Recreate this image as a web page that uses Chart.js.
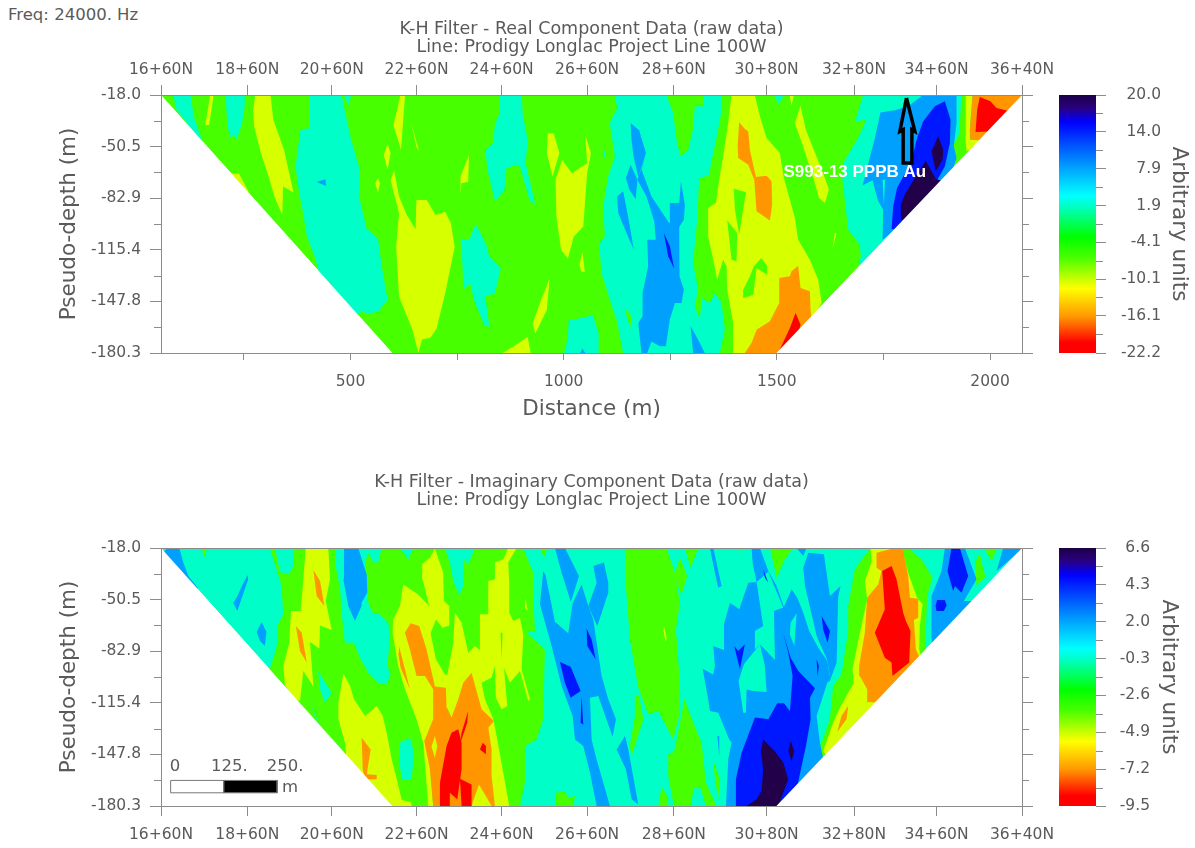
<!DOCTYPE html>
<html><head><meta charset="utf-8">
<script src="https://cdn.jsdelivr.net/npm/chart.js@4"></script>
<style>
html,body{margin:0;padding:0;background:#fff}
canvas{position:absolute}
#freq{position:absolute;left:8px;top:6px;font:16.5px "DejaVu Sans";color:#5a5a5a;line-height:18px}
</style></head><body>
<div id="freq">Freq: 24000. Hz</div>
<canvas id="c1" width="1058" height="424" style="left:0;top:0"></canvas>
<canvas id="b1" width="155" height="424" style="left:1040px;top:0"></canvas>
<canvas id="c2" width="1058" height="398" style="left:0;top:450px"></canvas>
<canvas id="b2" width="155" height="398" style="left:1040px;top:450px"></canvas>
<script>
/* ---------- axes ---------- */
const distanceMin = 55.6, distanceMax = 2075;
const depthTop = -18, depthBottom = -180.3;
const depthTicks = [-18.0,-50.5,-82.9,-115.4,-147.8,-180.3];
const depthMinor = [-34.2,-66.7,-99.1,-131.6,-164.0];
const distanceTicks = [250,500,750,1000,1250,1500,1750,2000];
const distanceLabelled = [500,1000,1500,2000];
const stationValues = [55.6,258,456,655,854.5,1055,1258.5,1476,1681,1874.6,2075];
const stationLabels = ['16+60N','18+60N','20+60N','22+60N','24+60N','26+60N','28+60N','30+80N','32+80N','34+60N','36+40N'];
const realBarTicks = [20.0,14.0,7.9,1.9,-4.1,-10.1,-16.1,-22.2];
const realBarMinor = [17,10.95,4.9,-1.1,-7.1,-13.1,-19.15];
const imagBarTicks = [6.6,4.3,2.0,-0.3,-2.6,-4.9,-7.2,-9.5];
const imagBarMinor = [5.45,3.15,0.85,-1.45,-3.75,-6.05,-8.35];
const rampStops = [0,0.05,0.105,0.28,0.39,0.43,0.55,0.63,0.75,0.86,0.96,1];
const rampColors = ['#1c0048','#2a0080','#0000ff','#00a0ff','#00ffff','#00ffc8','#00ff00','#48ff00','#ffff00','#ff9600','#ff0000','#ff0000'];
const levelDark='#22004a', levelBlue='#0018ff', levelAzure='#00a0ff', levelAqua='#00ffc8',
      levelGreen='#48ff00', levelLime='#d6ff00', levelOrange='#ff9600', levelRed='#ff0000', blank='#ffffff';

/* ---------- region outlines, all as [distance m, pseudo-depth m, ...] ---------- */
const outsideLeft  = [55.6,-18, 598,-180.3, 55.6,-180.3];
const outsideRight = [2075,-18, 2075,-180.3, 1499,-180.3];

/* Real component */
const realBase = [[55.6,-18,2075,-18,1499,-180.3,598,-180.3]];
const realAqua = [
 [85,-18,125,-18,132.5,-31.5,155,-48.7,90,-26.7],
 [207,-18,252,-18,252,-25.2,245,-36.8,233,-45.8,225,-43,218,-44.5,211,-36.8],
 [405,-18,479,-18,488,-29.4,501.5,-46.2,522,-65.1,522,-84,537.5,-101.9,564.5,-108.2,573.5,-126,587,-147,564.5,-154.4,542,-155.4,526,-154.4,515,-156.5,429.5,-132.3,416,-119.7,398,-107.1,389,-92.4,380,-79.8,371,-63,383,-39.5,405,-38.9],
 [485,-18,501.5,-18,495,-24.8],
 [850,-18,902,-18,903.8,-29.4,915.5,-46.2,911,-60.9,933.5,-87.2,920,-84,897.5,-63,888.5,-62,866,-64,861.5,-77.7,839,-85,821,-65.1,816.5,-52.5,834.5,-48.3,839,-35.7,850.7,-29.4],
 [758,-108.2,778,-109.2,794,-99.1,819,-112.4,825.5,-119.7,852.5,-127,839,-142.8,816.5,-144.5,825.5,-163.8,814,-162.8,789.5,-147,780.5,-136.5,765,-140.3,762.5,-123.9],
 [1012,-158.6,1019,-159.6,1068.5,-156.5,1082,-168,1082,-180.3,1001,-180.3,1010,-170.1],
 [1120,-18,1125.5,-26.2,1108,-35.6,1120,-56.6,1104.4,-69.2,1092.7,-88,1096.6,-106.9,1083.3,-111.5,1088.8,-130,1108.3,-146.8,1124,-159.3,1139.6,-180.3,1366.4,-180.3,1378,-165.6,1370.3,-148.9,1354.6,-142.6,1343,-148.9,1323.4,-145.7,1319.4,-159.3,1307.7,-151,1315.5,-140.5,1303.8,-123.7,1313.2,-96.4,1317.9,-70.2,1340.6,-68.7,1346.8,-59.7,1360,-43,1370.3,-28.3,1370.3,-18],
 [1093.4,-52,1098,-54.5,1095,-58.3],
 [1495.4,-18,1516.5,-18,1503,-24.1],
 [1702.5,-18,1683,-34.6,1708.8,-33.5,1694.7,-43,1655.6,-60.8,1654,-71.3,1661,-88,1667.3,-102.7,1694.7,-112.2,1697,-119.5,1690.8,-124.7,1765,-119.5,1859,-77.6,1976,-18]
];
const realGreenOver = [
 [1241,-18,1327,-18,1329,-25.1,1307.7,-25.1,1303.8,-38.8,1292,-52.4,1274,-56.6,1264.7,-46.1,1257,-29.3],
 [1147.4,-153,1159,-157.2,1156.8,-164.6,1145.8,-155.2]
];
const realLime = [
 [171,-18,179,-18,168.5,-36.8,159.5,-36.8],
 [276.5,-18,312.5,-18,319,-33.6,344,-52.5,366.5,-79.4,342,-75.6,340,-93.5,321.5,-81.9,308,-69.3,290,-54.6,274,-37.8,272,-27.3],
 [216,-67.6,238,-67.2,263,-79.8,254,-81.9],
 [617,-18,628,-18,618.5,-52.5,600.5,-36.8,609.5,-27.3],
 [643,-36,661,-53.5,654.5,-50.4],
 [587,-48.7,594,-54.6,587,-65.1,578,-55.7],
 [564.5,-70.4,569,-73.5,564.5,-79.4,558,-73.5],
 [602.3,-65.5,614,-81.9,632,-93.5,652.7,-102.5,654.5,-84,678.8,-84,699.5,-93.5,722,-91.4,735.5,-98.7,744.5,-113.4,722,-142.8,702,-164.9,688,-170.5,668,-171.8,659,-180.2,645.5,-165.9,614,-144.9,607,-113.4,614,-92.4,594,-71.4],
 [778,-55.7,776,-72.5,760,-73.5,758,-80.9,758,-69.3],
 [967,-133.4,960.5,-153.3,933.5,-168,927,-161.7,947,-147],
 [915.5,-170.1,922.7,-180.3,857,-180.3,893,-174.3],
 [963,-42,976.7,-42,990,-54.6,974,-69.3,960.5,-54.6],
 [996.5,-58.8,1019,-67.2,1055,-60.9,1050.5,-43,1064,-54.6,1055,-67.2,1046,-100.8,1023.5,-107.1,1010,-120.8,994,-115.5,983,-94.5,981,-71.4],
 [1044,-116.6,1049.6,-129.2,1041.5,-129.2,1037,-125],
 [1393.7,-18,1448.5,-18,1460.2,-31.4,1475.8,-45,1507,-54.5,1516.5,-70.2,1542.3,-95.4,1550,-109,1577.5,-121.6,1597,-134.2,1605,-148.9,1538,-180.3,1397.6,-180.3,1397.6,-161.4,1383.6,-140.5,1382,-125.8,1374,-121.6,1360,-134.2,1349,-119.5,1339,-107,1339,-89,1357,-86,1366.4,-68.8,1374,-56.6,1386,-35.6],
 [1555.5,-24.7,1568,-39.8,1585,-51.4,1608.7,-67,1622,-77.6,1612.6,-86,1599,-82.8,1589,-73.4,1561.7,-50.3,1542,-35.6],
 [1530,-18,1540,-18,1534.4,-24.7],
 [1636,-104.8,1640,-104.8,1630.6,-115.3]
];
const realGreenIslands = [
 [1399,-77,1427.4,-79.2,1411.7,-105.9,1401.6,-90.1],
 [1383.6,-96.9,1407,-104.8,1405.5,-122.6,1393.7,-121.6],
 [1464,-120.5,1477.4,-125.8,1477.4,-131,1452.4,-126.8,1444.6,-143.6,1422.7,-145.7,1421,-140.5,1436.7,-132.1,1446,-125.8]
];
const realOrange = [
 [1411.7,-35.2,1425,-39.4,1433,-40.9,1436.7,-52.4,1451,-69.6,1475.8,-68.8,1487.6,-72.3,1489,-87,1483.7,-96.9,1452.4,-91.2,1447,-71.3,1433,-61.8,1409.4,-57.6,1408,-50.3],
 [1505.6,-133.1,1530.6,-132,1534.5,-128.9,1550,-125.4,1555.6,-139.4,1577.5,-141.5,1579,-153,1585,-165.6,1538.4,-180.3,1425,-180.3,1440.7,-174,1452.4,-165.6,1483.7,-160.4,1505.6,-148.9]
];
const realRed = [
 [1544,-155.1,1555.6,-162.5,1538.4,-180.3,1503,-180.3,1530.6,-164.6]
];
const realAzure = [
 [420.5,-72.7,441,-71,443,-75.2],
 [1044,-177.5,1050.5,-180.3,1039,-180.3],
 [1157,-35.6,1177,-40.2,1193,-54.5,1175,-69.6,1164,-56.6,1159,-46.1],
 [1157,-61.8,1173,-71.3,1169,-83.4,1154,-77.6,1146,-70.2],
 [1125.5,-81.8,1139.6,-78.6,1151,-94.3,1164.6,-115.3,1147.4,-104.8,1128,-92.2],
 [1193,-55.5,1182.6,-64.9,1206,-81.8,1247.5,-98.5,1249,-86,1271,-86,1275,-72.3,1284.3,-87,1282,-96.4,1271,-101,1271,-121.6,1272.5,-132,1282,-140.5,1276.4,-148.9,1261,-148.9,1249,-159.3,1239.7,-176.1,1225.6,-176.1,1206,-173,1196,-180.3,1182.6,-180.3,1175,-161.4,1185,-157.2,1185,-142.6,1198.2,-125.8,1196,-109,1216,-109,1212.6,-97.5,1194.3,-81.8,1173,-71.3],
 [1297.5,-163.1,1319.4,-174,1331,-180.3,1303.8,-180.3],
 [1843,-18,1921.5,-18,1921.5,-35.6,1915,-50.3,1921.5,-57.6,1898,-77.6,1748,-109,1749.4,-90.1,1737.7,-84.9,1724.4,-71.7,1701,-75,1730,-45,1743,-29,1776.8,-27.6,1808,-25.1]
];
const realAquaOver = [[1748,-71.3,1754,-71.3,1751,-87]];
const realBlue = [
 [1235,-104.8,1249,-113.2,1259,-127,1245,-119.5],
 [1817,-176.5,1823,-180.3,1815,-180.3],
 [1894,-22,1907.4,-33.5,1905.8,-48.2,1894,-62.9,1874.5,-72.3,1890,-72.3,1788.5,-102.7,1769,-102.3,1773,-88,1782,-76.5,1816,-59.7,1827.6,-46.1,1843,-34.6,1870.6,-25.1]
];
const realDark = [
 [1878.5,-44,1890,-52.4,1888.6,-58.7,1873,-66,1863,-53.4],
 [1849,-59.3,1873,-70.9,1890,-72.3,1808,-97.5,1790,-96,1791,-87,1800,-80.7,1823.7,-70.2,1839.4,-63.9]
];
const realCornerGreen = [[1933,-18,1943,-18,1941.8,-44,1949,-51.4,1976,-52.4,1929,-58.7,1923,-57.6,1927,-46.1]];
const realCornerLime  = [[1943,-18,1959,-18,1952.7,-39.8,1952.7,-46.1,1970,-46.1,2007.5,-46.1,1945,-53.4,1941.8,-44]];
const realCornerOrange= [[1959,-18,2101,-18,1992,-48.2,1974,-46.5,1954,-46.1,1952.7,-39.8]];
const realCornerRed   = [[1976,-19.3,2001,-22,2015,-26.2,2046.6,-28.3,1999.7,-40.9,1966,-41.3,1970,-27.2]];
const pickArrow = [1804,-19.9,1788.5,-40.9,1796.3,-39.8,1796.3,-60.8,1816.7,-60.8,1816.7,-39.8,1823.7,-40.9];

/* Imaginary component */
const imagBase = [[55.6,-18,2075,-18,1499,-180.3,598,-180.3]];
const imagGreen = [
 [311,-18,326.7,-31.4,338.4,-41.9,342.3,-59.7,328.3,-67,330.6,-75.5,323,-83.8,311,-93.9,287.6,-95.4,592.6,-180.3,897.4,-180.3,909.2,-165.6,909.2,-142.6,936.5,-138.4,952,-125.8,956,-81.8,913,-71.3,932.6,-70.2,928.7,-48.2,928.7,-33.5,905,-18],
 [151,-18,164,-18,157,-24],
 [979.6,-172,1003,-171.3,1010.8,-175,1026.5,-174,1022.6,-180.3,979.6,-180.3],
 [944.4,-18,961.6,-18,953.7,-24.1],
 [1143.7,-18,1241.4,-18,1261,-33.5,1272.7,-52.4,1263.3,-69.2,1272.7,-102.7,1272.7,-121.6,1257,-138.4,1221.9,-120.5,1198.4,-122.6,1175,-105.9,1155.4,-75.5,1143.7,-33.5],
 [1272.7,-24,1289.9,-35.6,1276.6,-47.2,1258.6,-35.6],
 [1284.4,-18,1315.7,-18,1297.7,-30.4],
 [1167,-110,1177.3,-111.1,1186.7,-125.8,1159.3,-148.9,1155.4,-142.6,1167,-123.7],
 [1280.5,-111.1,1304,-127.9,1323.5,-140.5,1333.7,-165.6,1358.7,-180.3,1333.7,-180.3,1321.2,-169.2,1305.5,-169.2,1297.7,-180.3,1258.6,-180.3,1245.3,-161.4,1245.3,-147.8,1258.6,-146.4,1264.9,-138.4,1279,-119.5],
 [1229.7,-168.2,1245.3,-175,1245.3,-180.3,1221.9,-180.3],
 [1351,-152,1366.5,-163.5,1362.6,-176.1,1354.8,-163.5],
 [1483.8,-18,1538.6,-18,1519,-25.1,1499.5,-36.7,1491.6,-27.2],
 [1409.5,-18,1417.4,-18,1413.4,-21],
 [1719.7,-18,1808,-18,1839.4,-25.1,1865,-36.7,1852.6,-48.2,1848.7,-75.5,1851,-86,1741.6,-119.5,1585,-161.4,1573.5,-157.2,1604.8,-140.5,1624.3,-125.8,1632,-104.8,1651.7,-97.5,1659.5,-83.9,1667.3,-70.2,1667.3,-54.5,1683,-31.4,1702.5,-24],
 [1976,-21,1985.6,-33.5,1991.8,-35.6,1968.4,-41.9,1964.5,-27.2],
 [1985.6,-18,2017,-18,2003.6,-26.2]
];
const imagAquaOver = [
 [323,-18,366,-18,367.4,-29.3,354,-34.6,334.5,-33.1],
 [466,-18,463.6,-27.2,475.3,-43,479,-58.7,487,-77.6,508,-77.6,522,-87,541.8,-96.4,565.2,-102.7,584.8,-103.8,594,-97.5,586.3,-92.2,592.6,-75.5,588.7,-65,565.2,-58.7,553.5,-59.7,541.8,-52.4,538,-35.6,534,-27.2,541.8,-21,553.5,-27.2,565.2,-27.2,573,-18],
 [616,-18,647,-18,635.8,-25.1],
 [721.5,-18,791.9,-18,776.2,-28.3,764.5,-25.1,764.5,-41.9,755,-47.8,741,-38.8,733,-27.2],
 [424.5,-95.4,455.7,-109,440,-115.3,428.4,-106.9],
 [397,-108,409,-117,427,-129,418,-125],
 [616,-140.5,639.7,-137.3,649,-146.8,643.6,-163.5,620,-163.5,616,-155.2]
];
const imagAzure = [
 [70.2,-18,98.6,-18,108,-27.2,119.7,-35.6,143,-43.4,123.4,-43.4,55.3,-23],
 [258.7,-35,260.2,-37.7,234.6,-57.6,225,-52.4,233,-49.3,247,-40.9],
 [291.5,-64.6,303,-70.8,299.3,-79.7,287.6,-76.5,280,-70.8],
 [484.7,-18,518.3,-18,538,-34.6,539.4,-46.1,526,-52.4,526,-54.5,510.5,-64,495,-54.5,483,-37.7],
 [952.2,-32.5,957.7,-35.2,979.6,-64.4,1010.8,-71.7,1021,-52.8,1042,-40.9,1057.8,-54.5,1069.5,-62.9,1089,-98.5,1104.7,-113.2,1122.7,-125.8,1114.8,-136.7,1081.2,-111.1,1061.7,-112.2,1065.6,-138.4,1077.3,-151,1108.6,-180.3,1077.3,-180.3,1061.7,-159.3,1046,-142.6,1026.5,-138.4,1021,-123.7,995.2,-104.8,971.7,-79.7,944.4,-53.4],
 [979.6,-18,1003,-18,1035.9,-35.6,1017,-52,995.2,-33.5],
 [1069.5,-29.3,1094.5,-27.2,1104.7,-39.8,1104.7,-46.1,1078.9,-67,1057.8,-54.5,1077.3,-39.8],
 [1143.8,-136.3,1151.6,-144.7,1175,-179.3,1159.4,-176.1,1146,-157.2,1124.2,-144.7],
 [1440.8,-18,1460.4,-18,1480,-32.5,1499.5,-41.9,1516.7,-54.9,1534.7,-44,1548,-49.3,1562,-58.7,1576,-70.2,1597.2,-80.7,1618.3,-89.1,1626,-101,1618.3,-102.7,1593.3,-123.7,1601,-140.5,1609,-151,1601,-161.4,1523,-180.3,1380.6,-180.3,1386,-151,1393.9,-140.5,1388.4,-138.4,1362.6,-121.6,1343,-120.5,1339,-113.2,1325.9,-93.9,1350.9,-97.5,1354.8,-92.2,1350.9,-79.7,1376,-82.2,1376,-66,1390,-52.4,1411.9,-56.6,1433,-39.8,1452.5,-39.4,1443,-27.2],
 [1562,-30.4,1573.8,-21,1610.5,-22,1624.6,-48.2,1649.6,-41.9,1644,-48.2,1640.2,-90.1,1626,-100.6,1618.3,-88.5,1593.3,-73.4,1581.6,-59.7,1566,-41.9],
 [1546.4,-18,1569.8,-18,1562,-23],
 [1343,-18,1351,-18,1370.4,-41.9,1362.6,-43,1354.8,-33.5],
 [1360.3,-136.3,1365,-136.3,1365,-148.9],
 [1894,-18,1941,-18,1968.4,-37.7,1938.7,-51.3,1976,-51.3,1866.7,-83.9,1862.8,-74.4,1862.8,-48.2,1886.3,-32.5],
 [2031,-18,2078,-18,2015.3,-32.5]
];
const imagAquaPockets = [
 [1460.4,-78.6,1472,-92.2,1476,-108.6,1444.7,-108,1429,-107,1427.5,-121.6,1421.3,-121.6,1410.3,-101.7,1422.8,-91.2],
 [1452.5,-39.4,1480,-33,1495.6,-43,1515,-55.5,1493.2,-57.6,1495.6,-88.5,1460.4,-78.6,1448.6,-81.8,1448.6,-70.2,1468,-67],
 [1532.3,-65,1546.4,-59.1,1541,-79.7,1530.7,-72.3]
];
const imagLime = [
 [395,-18,448,-18,452,-37.7,442,-51.3,456,-69.6,428.6,-66.7,427,-81.3,405,-77.1,413,-105.2,389.5,-95.4,381.6,-114.3,366,-112.2,346.5,-104.4,342.5,-92.2,356.6,-77.6,360.5,-57.6,383.2,-57.6,389.5,-37.7],
 [483.3,-96.9,499,-104.8,508.3,-113.2,534.1,-123.7,561.5,-117.4,575.6,-123.7,586.5,-136.3,596.7,-151,606.8,-161.4,620.2,-176.5,641.3,-177.8,643.6,-180.3,585,-180.3,491,-152,487.2,-140.5,471.6,-125.8,471.6,-115.3],
 [623.7,-40.9,659,-47.2,684.7,-54.5,669,-37.7,668.3,-28.3,686.3,-24.1,698,-18.4,717.6,-33.5,719,-51.3,731.7,-54.5,731.7,-66.7,716,-68.1,700.4,-62.9,688,-71.7,700.4,-88,721.5,-97.5,745,-98.5,725.4,-119.5,702,-127.9,682.4,-140.5,694,-180.3,682.4,-180.3,670.7,-140.5,655,-125.8,627.7,-106.9,612,-92.2,598.7,-71.3,600.3,-62.9,616,-54.5],
 [745,-58.7,760.6,-65,776.2,-83.9,791.9,-79.7,802,-81.8,803.6,-59.7,823.2,-59.7,823.2,-38.8,838.8,-37.7,838.8,-27.2,858.3,-25.1,870,-18,889.6,-18,870,-27.2,872.4,-39.8,872.4,-58.7,881.8,-64,897.4,-61.8,905.3,-72.3,901.4,-94.3,921,-113.2,917,-114.3,897.4,-95.4,874,-102.7,860,-93.3,867.7,-117.4,854.4,-119.5,841,-112.2,838.8,-92.2,831,-99.6,807.5,-102.7,815.3,-113.2,835,-125.8,844.3,-138.4,858.3,-159.3,872.4,-180.3,784,-180.3,780,-119.5,737,-124.7,721.5,-115.3,723.8,-102.7,741,-77.6],
 [910.7,-49.3,915.4,-57.6,909.2,-55.5],
 [1235.1,-67,1241.4,-74.4,1239,-77.1,1233.6,-69.2],
 [1719.7,-18,1792.4,-18,1808,-33.5,1829,-49.3,1841.7,-53.4,1835.4,-67,1833.9,-81.8,1839.4,-87,1741.6,-119.5,1616.5,-148.9,1608.7,-145.7,1632,-127.9,1643.9,-120.5,1667.3,-109,1680.6,-102.7,1677.5,-94.3,1694.7,-71.3,1711.9,-50.3,1706.4,-38.8,1722,-27.2]
];
const imagGreenThin = [[852,-71.3,856.8,-71.3,854.4,-88]];
const imagOrange = [
 [413,-31.8,428.6,-38.8,438.7,-54.5,420.7,-48.2],
 [372,-67,385.6,-71.3,397.3,-90.1,381.6,-82.8],
 [526.3,-137.3,547.4,-144.7,538,-160.4,561.5,-160.8,561.5,-163.5,534,-163.5,528.7,-157.2],
 [627.7,-71.3,641,-65.4,661.3,-67,678.5,-81.8,698,-105.2,723.8,-105.9,725.4,-118.5,737,-124.7,752.8,-113.2,764.5,-102.7,784,-96.4,807.5,-119.5,836.4,-126.8,823.2,-131,831,-144.7,831,-161.4,838.8,-180.3,694,-180.3,686.3,-157.2,673,-139.4,694,-125.8,694,-106.9,674.6,-98.5,655,-98.5,639.4,-81.8],
 [613.6,-79.7,619.8,-86,639.4,-106.9,617.5,-93.3,612,-83.9],
 [1733.8,-21,1776.8,-18,1794.8,-18,1808,-35.6,1812,-49.3,1831.5,-49.9,1831.5,-61.8,1821.4,-63.3,1826,-81.8,1835.4,-87,1749.4,-115.3,1711.9,-114.9,1711.9,-106.9,1694.7,-98.5,1693,-92.2,1706.4,-71.3,1711.9,-49.3,1737.7,-40.9,1745.5,-32.5,1733.8,-30.4],
 [1667.3,-117.4,1663.4,-125.8,1641.5,-133.8,1651.7,-123.7]
];
const imagLimeOver = [
 [698,-136.3,703.5,-142.6,698,-149.9,690,-143],
 [784,-180.3,801.3,-166.7,831,-180.3]
];
const imagRed = [
 [737,-134.2,752.8,-132,760.6,-140.5,760.6,-157.2,750.4,-176.1,733,-172,733,-180.3,709.8,-180.3,709.8,-165.6,725.4,-142.6],
 [776,-120.5,773.9,-127.9,756.7,-141.5,760.6,-134.2],
 [756.7,-163.1,784,-166.7,784,-180.3,760.6,-180.3],
 [810,-140.5,817.7,-142.6,817.7,-147.8,803.6,-144.7],
 [1747,-32.5,1769,-29.3,1780.7,-37.7,1796.3,-58.7,1802.6,-64,1813.5,-70.2,1810.4,-90.1,1771.3,-98.5,1769,-90.1,1753.3,-87,1729.9,-71.3,1753.3,-56.6]
];
const imagBlue = [
 [1053.8,-68.8,1065.6,-75.5,1075,-88,1055.4,-79.7],
 [991.3,-89.7,1016.3,-92.7,1039.8,-108,1016.3,-112.2,1003,-102.7],
 [1042,-111.1,1046,-129,1039.8,-128],
 [1515,-71.7,1532.3,-87,1550.3,-95.4,1589.4,-106.3,1577.7,-112.2,1579.2,-125.8,1568.3,-142.6,1548,-167.7,1554,-180.3,1404,-180.3,1404,-163.5,1417.4,-146.8,1448.6,-124.7,1480,-125.8,1501,-115.7,1516.7,-115.7,1530.7,-120.6,1537,-98.5,1526.8,-83.9],
 [1400,-79.7,1409.5,-82.8,1425,-78.6,1413.4,-94.3],
 [1468,-31.4,1480,-39.8,1472,-36.7],
 [1605,-60.8,1624.6,-70.2,1619,-77.6,1609,-69.6],
 [1593.3,-88,1598.8,-92.2,1595.6,-98.5],
 [1909.7,-18,1929.3,-18,1948.8,-35.6,1933.2,-46.1,1917.6,-41.9,1913.6,-45,1900.3,-32.5],
 [1876,-50.7,1894,-50.7,1898,-54,1891.7,-57.6,1874.5,-57.6,1872.2,-54.5]
];
const imagDark = [
 [1468,-138.4,1491.6,-144.7,1515,-153,1526.8,-163.5,1503.4,-180.3,1429,-180.3,1452.5,-176.1,1464.3,-170.9,1468,-157.2,1462.7,-145.7],
 [1532.3,-139.4,1541,-145.7,1534.7,-152,1526.8,-145.7]
];
/* map scale bar, in metres along the line */
const scaleBarStart = 78.2, scaleBarSteps = [0,125,250];
const scaleBarDepth = [-164.2,-172.0];

/* ---------- paint order ---------- */
const realLayers = [
 [levelGreen,realBase],[levelAqua,realAqua],[levelGreen,realGreenOver],[levelLime,realLime],
 [levelGreen,realGreenIslands],[levelOrange,realOrange],[levelRed,realRed],[levelAzure,realAzure],
 [levelAqua,realAquaOver],[levelBlue,realBlue],[levelDark,realDark],
 [levelGreen,realCornerGreen],[levelLime,realCornerLime],[levelOrange,realCornerOrange],[levelRed,realCornerRed],
 [blank,[outsideLeft,outsideRight]]
];
const imagLayers = [
 [levelAqua,imagBase],[levelGreen,imagGreen],[levelAqua,imagAquaOver],[levelAzure,imagAzure],
 [levelAqua,imagAquaPockets],[levelLime,imagLime],[levelGreen,imagGreenThin],[levelOrange,imagOrange],
 [levelLime,imagLimeOver],[levelRed,imagRed],[levelBlue,imagBlue],[levelDark,imagDark],
 [blank,[outsideLeft,outsideRight]]
];

/* ---------- helpers ---------- */
const textColor='#5a5a5a', axisColor='#8c8c8c', fontFamily='"DejaVu Sans"';
const pts = flat => { const p=[]; for(let i=0;i<flat.length;i+=2) p.push({x:flat[i],y:flat[i+1]}); p.push({x:flat[0],y:flat[1]}); return p; };
const region = (flat,color) => ({data:pts(flat),showLine:true,fill:'shape',backgroundColor:color,borderColor:'transparent',borderWidth:0,pointRadius:0,tension:0});
function layerSets(layers){ const out=[]; layers.forEach(([c,list])=>list.forEach(f=>out.push(region(f,c)))); return out; }
const ordered = sets => { sets.forEach((s,i)=>s.order=-i); return sets; };
const setTicks = vals => s => { s.ticks = vals.map(v=>({value:v})); };
const fixH = h => s => { s.height=h; s.paddingLeft=0; s.paddingRight=0; };
const fixW = w => s => { s.width=w; s.paddingTop=0; s.paddingBottom=0; };
const tickFont={family:fontFamily,size:15.5};
const titleFont={family:fontFamily,size:21.5};

const minorTicks={id:'minorTicks',afterDraw(ch,a,o){
  const c=ch.ctx,ar=ch.chartArea; c.save(); c.strokeStyle=axisColor; c.lineWidth=1;
  (o.left||[]).forEach(v=>{const y=Math.round(ch.scales.y.getPixelForValue(v))+.5;c.beginPath();c.moveTo(ar.left-7,y);c.lineTo(ar.left,y);c.stroke();});
  (o.right||[]).forEach(v=>{const y=Math.round(ch.scales.y.getPixelForValue(v))+.5;c.beginPath();c.moveTo(ar.right,y);c.lineTo(ar.right+7,y);c.stroke();});
  c.restore();}};
const plotText={id:'plotText',afterDatasetsDraw(ch,a,o){
  const c=ch.ctx; c.save(); c.textBaseline='middle'; c.textAlign='center';
  (o.items||[]).forEach(t=>{c.font=t.font;c.fillStyle=t.color;c.fillText(t.text,ch.scales.x.getPixelForValue(t.x),ch.scales.y.getPixelForValue(t.y));});
  c.restore();}};

function depthChart(id,cfg){
  return new Chart(document.getElementById(id),{
    type:'scatter',
    data:{datasets:ordered(cfg.sets)},
    plugins:[minorTicks,plotText],
    options:{
      responsive:false,animation:false,devicePixelRatio:1,events:[],
      layout:{padding:{left:57,right:0,top:0,bottom:0}},
      plugins:{
        legend:{display:false},tooltip:{enabled:false},
        title:{display:true,text:cfg.title,fullSize:false,color:textColor,font:{family:fontFamily,size:17.5,lineHeight:'18px',weight:'normal'},padding:{top:cfg.titleTop,bottom:0}},
        minorTicks:{left:depthMinor,right:depthMinor},
        plotText:{items:cfg.texts}
      },
      scales:{
        x:{type:'linear',axis:'x',position:'bottom',min:distanceMin,max:distanceMax,afterFit:fixH(cfg.bottomH),afterBuildTicks:setTicks(cfg.xVals),
           grid:{drawOnChartArea:false,tickLength:cfg.xTick,tickColor:axisColor},border:{color:axisColor,z:1},
           ticks:{autoSkip:false,maxRotation:0,color:textColor,font:tickFont,padding:cfg.xPad,callback:cfg.xLabel},
           title:cfg.xTitle},
        xt:{type:'linear',axis:'x',position:'top',min:distanceMin,max:distanceMax,afterFit:fixH(cfg.topH),afterBuildTicks:setTicks(cfg.topVals),
           grid:{drawOnChartArea:false,drawTicks:cfg.topVals.length>0,tickLength:10,tickColor:axisColor},border:{color:axisColor,z:1},
           ticks:{display:cfg.topVals.length>0,autoSkip:false,maxRotation:0,color:textColor,font:tickFont,padding:6,callback:(v,i)=>stationLabels[i]}},
        y:{type:'linear',position:'left',min:depthBottom,max:depthTop,afterFit:fixW(104),afterBuildTicks:setTicks(depthTicks),
           grid:{drawOnChartArea:false,tickLength:11,tickColor:axisColor},border:{color:axisColor,z:1},
           ticks:{autoSkip:false,color:textColor,font:tickFont,padding:9,callback:v=>v.toFixed(1)},
           title:{display:true,text:'Pseudo-depth (m)',color:textColor,font:titleFont,padding:0}},
        yr:{type:'linear',position:'right',min:depthBottom,max:depthTop,afterFit:fixW(36),afterBuildTicks:setTicks(depthTicks),
           grid:{drawOnChartArea:false,tickLength:11,tickColor:axisColor},border:{color:axisColor,z:1},
           ticks:{display:false}}
      }
    }
  });
}
function barChart(id,lo,hi,majors,minors,cfg){
  const fill = ctx => { const ch=ctx.chart; if(!ch.chartArea) return '#00ff00';
    const g=ch.ctx.createLinearGradient(0,ch.chartArea.top,0,ch.chartArea.bottom);
    rampStops.forEach((s,i)=>g.addColorStop(s,rampColors[i])); return g; };
  const labelEdge = cfg.labelRight - 1096;          /* far-aligned labels end at the axis box edge */
  return new Chart(document.getElementById(id),{
    type:'bar',
    data:{labels:['units'],datasets:[{data:[[lo,hi]],backgroundColor:fill,borderWidth:0,barPercentage:1,categoryPercentage:1}]},
    plugins:[{id:'barMinor',afterDraw(ch){const c=ch.ctx,ar=ch.chartArea;c.save();c.strokeStyle=axisColor;c.lineWidth=1;
      minors.forEach(v=>{const y=Math.round(ch.scales.y.getPixelForValue(v))+.5;c.beginPath();c.moveTo(ar.right,y);c.lineTo(ar.right+7,y);c.stroke();});c.restore();}}],
    options:{
      responsive:false,animation:false,devicePixelRatio:1,events:[],
      layout:{padding:{left:19,right:99-labelEdge,top:cfg.top,bottom:cfg.bottom}},
      plugins:{legend:{display:false},tooltip:{enabled:false},title:{display:false}},
      scales:{
        x:{display:false},
        y:{position:'right',min:lo,max:hi,afterFit:fixW(labelEdge),afterBuildTicks:setTicks(majors),
           grid:{drawOnChartArea:false,tickLength:10,tickColor:axisColor},border:{display:false},
           ticks:{autoSkip:false,crossAlign:'far',color:textColor,font:tickFont,padding:10,callback:v=>v.toFixed(1)},
           title:{display:true,text:'Arbitrary units',color:textColor,font:titleFont,padding:{top:-(12.9+cfg.titleGap),bottom:0}}}
      }
    }
  });
}

/* ---------- real component ---------- */
const realSets = layerSets(realLayers);
realSets.push({data:pts(pickArrow),showLine:true,fill:false,borderColor:'#000',borderWidth:3.5,borderJoinStyle:'miter',pointRadius:0});
depthChart('c1',{
  sets:realSets,
  title:['K-H Filter - Real Component Data (raw data)','Line: Prodigy Longlac Project Line 100W'],
  titleTop:20,topH:39,bottomH:71,xVals:distanceTicks,xTick:7,xPad:13,topVals:stationValues,
  xLabel:v=>distanceLabelled.includes(v)?String(v):'',
  xTitle:{display:true,text:'Distance (m)',color:textColor,font:titleFont,padding:{top:0,bottom:2}},
  texts:[{text:'S993-13 PPPB Au',x:1683,y:-66.7,font:'bold 17px "Liberation Sans"',color:'#ffffff'}]
});
barChart('b1',-22.2,20.0,realBarTicks,realBarMinor,{labelRight:1161,titleGap:18,top:95,bottom:71});

/* ---------- imaginary component ---------- */
const imagSets = layerSets(imagLayers);
const bar = (a,b,c,w) => ({data:pts([scaleBarStart+a,scaleBarDepth[0],scaleBarStart+b,scaleBarDepth[0],scaleBarStart+b,scaleBarDepth[1],scaleBarStart+a,scaleBarDepth[1]]),showLine:true,fill:'shape',backgroundColor:c,borderColor:'#777',borderWidth:w,pointRadius:0});
imagSets.push(bar(scaleBarSteps[0],scaleBarSteps[1],'#ffffff',1));
imagSets.push(bar(scaleBarSteps[1],scaleBarSteps[2],'#000000',1));
const barFont='16.5px "DejaVu Sans"';
depthChart('c2',{
  sets:imagSets,
  title:['K-H Filter - Imaginary Component Data (raw data)','Line: Prodigy Longlac Project Line 100W'],
  titleTop:23,topH:39,bottomH:42,xVals:stationValues,xTick:10,xPad:10,topVals:[],
  xLabel:(v,i)=>stationLabels[i],
  xTitle:{display:false},
  texts:[{text:'0',x:88.4,y:-155.6,font:barFont,color:textColor},
         {text:'125.',x:215.8,y:-155.6,font:barFont,color:textColor},
         {text:'250.',x:346.5,y:-155.6,font:barFont,color:textColor},
         {text:'m',x:358.2,y:-168.8,font:barFont,color:textColor}]
});
barChart('b2',-9.5,6.6,imagBarTicks,imagBarMinor,{labelRight:1150,titleGap:19,top:98,bottom:42});
</script>
</body></html>
